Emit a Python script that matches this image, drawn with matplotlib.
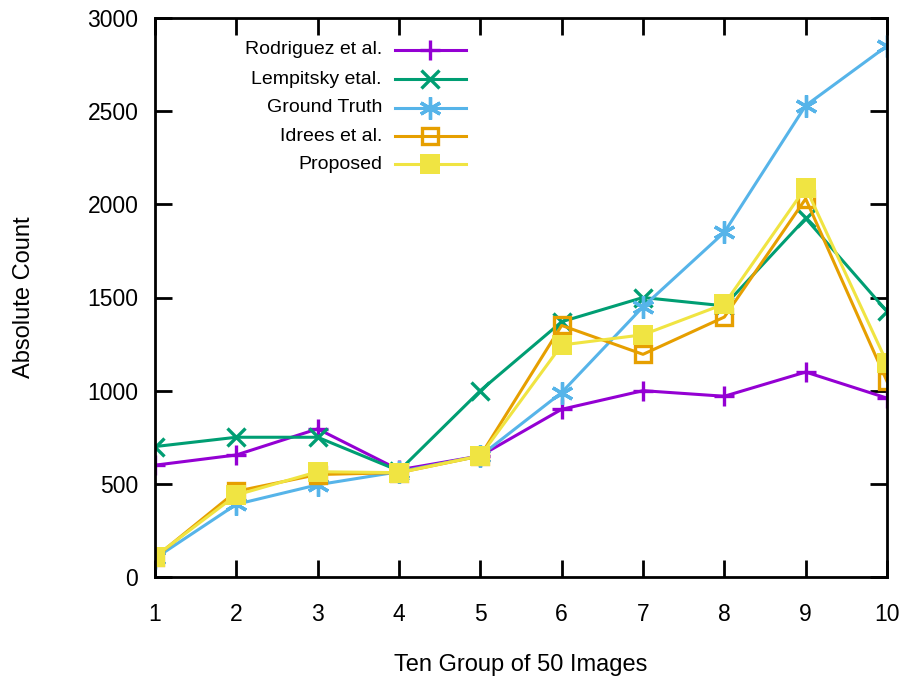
import matplotlib
matplotlib.use('Agg')
import matplotlib.pyplot as plt

plt.rcParams['font.family'] = ['Liberation Sans', 'DejaVu Sans']

groups = [1, 2, 3, 4, 5, 6, 7, 8, 9, 10]
rodriguez = [600, 655, 795, 575, 650, 900, 1000, 970, 1100, 960]
lempitsky = [700, 750, 750, 570, 1000, 1370, 1500, 1455, 1925, 1425]
ground_truth = [100, 390, 495, 565, 650, 990, 1450, 1850, 2530, 2850]
idrees = [105, 460, 550, 560, 650, 1350, 1195, 1395, 2030, 1050]
proposed = [110, 440, 565, 560, 650, 1245, 1300, 1465, 2090, 1150]

yticks = [0, 500, 1000, 1500, 2000, 2500, 3000]

fig = plt.figure(figsize=(9.01, 6.82), dpi=100)
ax = fig.add_axes([155/901, 105/682, 732/901, 559/682])

lw = 2.2
ax.plot(groups, rodriguez, color='#9400D3', lw=lw, marker='+', ms=14, mew=2.4, label='Rodriguez et al.')
ax.plot(groups, lempitsky, color='#009E73', lw=lw, marker='x', ms=13, mew=2.4, label='Lempitsky etal.')
ax.plot(groups, ground_truth, color='#56B4E9', lw=lw, marker=(6, 2, 0), ms=16, mew=2.4, label='Ground Truth')
ax.plot(groups, idrees, color='#E69F00', lw=lw, marker='s', ms=12, mew=2.4, mfc='none', label='Idrees et al.')
ax.plot(groups, proposed, color='#F0E442', lw=lw, marker='s', ms=15, mew=0, label='Proposed')

ax.set_xlim(1, 10)
ax.set_ylim(0, 3000)
ax.set_xticks(groups)
ax.set_yticks(yticks)
for s in ax.spines.values():
    s.set_linewidth(2)
ax.tick_params(direction='in', length=12, width=2, top=True, right=True, labelsize=16.5)
ax.tick_params(axis='x', pad=19)
ax.tick_params(axis='y', pad=12)

ax.set_xlabel('Ten Group of 50 Images', fontsize=17, labelpad=20)
ax.set_ylabel('Absolute Count', fontsize=17, labelpad=38)

# gnuplot style key: right-aligned text, sample line to the right
text_x = 0.310
line_x = [0.328, 0.3757, 0.4249]
row_y = [0.9428, 0.8906, 0.8398, 0.7889, 0.7382]
for line, y in zip(list(ax.get_lines()), row_y):
    ax.plot(line_x, [y, y, y], transform=ax.transAxes, clip_on=False,
            color=line.get_color(), lw=line.get_linewidth(), marker=line.get_marker(),
            ms=line.get_markersize(), mew=line.get_markeredgewidth(),
            mfc=line.get_markerfacecolor(), markevery=[1])
    ax.text(text_x, y, line.get_label(), transform=ax.transAxes, ha='right', va='center',
            fontsize=14)

fig.savefig('out.png', dpi=100)
